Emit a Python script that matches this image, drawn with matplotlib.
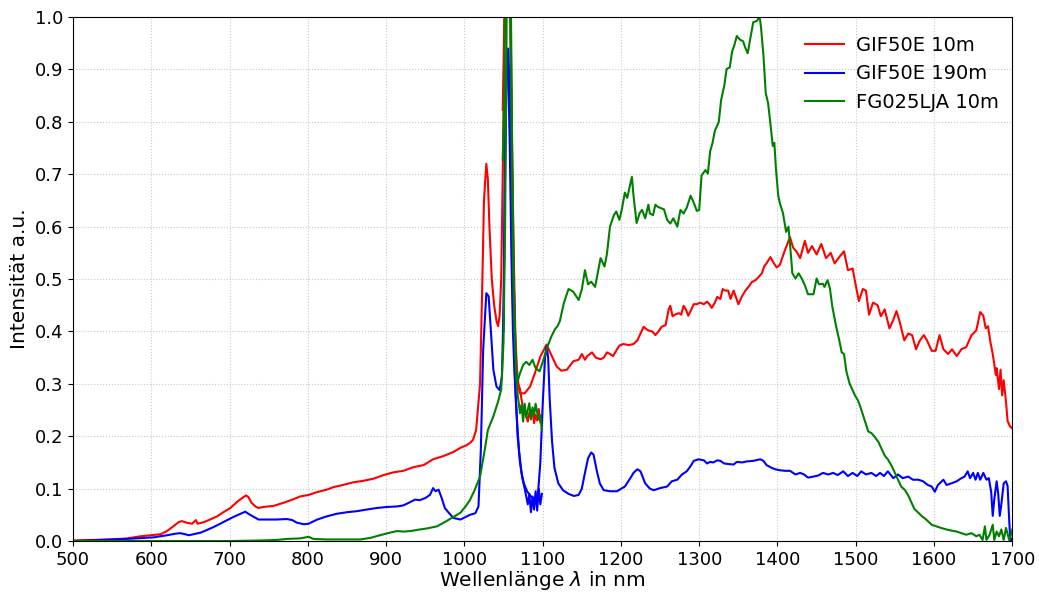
import numpy as np
import matplotlib
matplotlib.use("Agg")
import matplotlib.pyplot as plt

# Spektren: je Faser ein VIS-Teil (bis ~1100 nm) und ein NIR-Teil (ab ~1050 nm)
# (Wellenlänge in nm, Intensität normiert)

rot_vis = [(500, 0.001), (548, 0.003), (569, 0.005), (586, 0.009), (599, 0.011), (612, 0.013),
           (620, 0.019), (628, 0.028), (635, 0.036), (639, 0.038), (645, 0.035), (652, 0.033),
           (657, 0.040), (659, 0.033), (667, 0.036), (675, 0.041), (684, 0.047), (692, 0.055),
           (701, 0.063), (709, 0.074), (716, 0.082), (721, 0.087), (724, 0.084), (728, 0.073),
           (733, 0.066), (737, 0.063), (743, 0.065), (756, 0.067), (769, 0.073), (782, 0.080),
           (790, 0.085), (801, 0.088), (811, 0.093), (824, 0.098), (833, 0.103), (845, 0.107),
           (858, 0.112), (871, 0.115), (884, 0.119), (897, 0.126), (909, 0.131), (922, 0.134),
           (935, 0.141), (948, 0.145), (960, 0.156), (973, 0.162), (986, 0.170), (995, 0.178),
           (1003, 0.183), (1007, 0.187), (1011, 0.193), (1015, 0.212), (1020, 0.30), (1023, 0.50),
           (1025, 0.65), (1028, 0.72), (1030, 0.69), (1032, 0.60), (1035, 0.50), (1038, 0.45),
           (1041, 0.42), (1043, 0.41), (1045, 0.43), (1047, 0.50), (1049, 0.70), (1051, 0.95),
           (1053, 1.20), (1055, 1.40), (1057, 1.30), (1059, 1.00), (1061, 0.75), (1063, 0.55),
           (1065, 0.40), (1067, 0.33), (1069, 0.30), (1071, 0.29), (1073, 0.27), (1075, 0.254),
           (1077, 0.245), (1079, 0.238), (1081, 0.228), (1083, 0.245), (1085, 0.235), (1087, 0.25),
           (1089, 0.225), (1091, 0.241), (1093, 0.23), (1095, 0.252), (1097, 0.226), (1099, 0.238)]

rot_nir = [(1049, 0.823), (1051, 1.0), (1053, 1.3), (1055, 1.5), (1057, 1.3), (1059, 0.95),
           (1061, 0.70), (1063, 0.50), (1065, 0.38), (1067, 0.31), (1071, 0.282), (1077, 0.282),
           (1084, 0.295), (1090, 0.32), (1097, 0.352), (1105, 0.375), (1112, 0.352), (1118, 0.333),
           (1124, 0.325), (1131, 0.327), (1139, 0.343), (1146, 0.346), (1150, 0.357), (1154, 0.346),
           (1157, 0.353), (1163, 0.36), (1168, 0.35), (1174, 0.347), (1178, 0.35), (1182, 0.36),
           (1186, 0.357), (1190, 0.353), (1195, 0.366), (1198, 0.373), (1203, 0.376), (1210, 0.374),
           (1216, 0.376), (1221, 0.383), (1225, 0.396), (1229, 0.409), (1232, 0.405), (1235, 0.402),
           (1240, 0.40), (1244, 0.393), (1248, 0.40), (1252, 0.409), (1257, 0.412), (1261, 0.442),
           (1263, 0.449), (1266, 0.429), (1269, 0.432), (1274, 0.435), (1277, 0.432), (1280, 0.449),
           (1283, 0.442), (1286, 0.43), (1289, 0.439), (1293, 0.452), (1297, 0.452), (1301, 0.455),
           (1306, 0.452), (1310, 0.457), (1313, 0.452), (1316, 0.445), (1320, 0.455), (1323, 0.466),
           (1327, 0.462), (1330, 0.481), (1333, 0.478), (1337, 0.478), (1340, 0.462), (1344, 0.478),
           (1347, 0.465), (1350, 0.452), (1355, 0.468), (1359, 0.478), (1363, 0.485), (1367, 0.494),
           (1372, 0.498), (1376, 0.504), (1380, 0.511), (1383, 0.524), (1386, 0.53), (1391, 0.542),
           (1395, 0.531), (1399, 0.522), (1403, 0.527), (1409, 0.553), (1416, 0.58), (1420, 0.56),
           (1424, 0.553), (1429, 0.54), (1435, 0.573), (1439, 0.55), (1444, 0.563), (1450, 0.547),
           (1456, 0.567), (1462, 0.54), (1468, 0.55), (1473, 0.53), (1480, 0.544), (1485, 0.553),
           (1490, 0.517), (1496, 0.52), (1500, 0.488), (1504, 0.458), (1509, 0.481), (1513, 0.478),
           (1517, 0.432), (1522, 0.455), (1528, 0.45), (1532, 0.429), (1537, 0.442), (1543, 0.406),
           (1548, 0.422), (1552, 0.439), (1556, 0.419), (1562, 0.383), (1567, 0.396), (1572, 0.393),
           (1577, 0.366), (1582, 0.383), (1587, 0.393), (1591, 0.383), (1597, 0.363), (1602, 0.363),
           (1607, 0.393), (1612, 0.366), (1618, 0.357), (1623, 0.366), (1629, 0.353), (1635, 0.366),
           (1641, 0.37), (1648, 0.393), (1654, 0.402), (1659, 0.437), (1663, 0.43), (1666, 0.406),
           (1669, 0.41), (1672, 0.38), (1675, 0.357), (1679, 0.317), (1680, 0.33), (1683, 0.29),
           (1685, 0.327), (1687, 0.278), (1689, 0.307), (1692, 0.265), (1694, 0.229), (1697, 0.219),
           (1700, 0.215)]

blau_vis = [(500, 0.0), (569, 0.004), (603, 0.007), (620, 0.011), (631, 0.014), (637, 0.015),
            (643, 0.013), (648, 0.011), (654, 0.013), (663, 0.016), (671, 0.021), (680, 0.027),
            (688, 0.033), (697, 0.040), (705, 0.046), (714, 0.052), (720, 0.056), (724, 0.052),
            (731, 0.046), (737, 0.041), (748, 0.041), (760, 0.041), (773, 0.042), (780, 0.040),
            (786, 0.035), (795, 0.032), (801, 0.033), (812, 0.041), (824, 0.047), (837, 0.052),
            (850, 0.055), (863, 0.057), (875, 0.060), (888, 0.063), (901, 0.065), (914, 0.066),
            (922, 0.068), (929, 0.073), (937, 0.079), (943, 0.078), (950, 0.082), (956, 0.088),
            (960, 0.101), (963, 0.095), (967, 0.098), (971, 0.082), (975, 0.063), (980, 0.054),
            (986, 0.044), (995, 0.041), (1007, 0.050), (1014, 0.053), (1018, 0.066), (1021, 0.174),
            (1024, 0.365), (1028, 0.473), (1031, 0.467), (1034, 0.397), (1037, 0.327), (1041, 0.295),
            (1045, 0.288), (1048, 0.314), (1050, 0.45), (1052, 0.70), (1054, 0.90), (1056, 0.94),
            (1058, 0.85), (1060, 0.65), (1062, 0.45), (1065, 0.30), (1068, 0.20), (1071, 0.15),
            (1074, 0.12), (1077, 0.10), (1079, 0.085), (1081, 0.07), (1083, 0.09), (1085, 0.055),
            (1087, 0.085), (1089, 0.06), (1091, 0.095), (1093, 0.058), (1095, 0.10), (1097, 0.07),
            (1099, 0.09)]

blau_nir = [(1050, 0.40), (1052, 0.75), (1054, 0.93), (1056, 0.90), (1058, 0.75), (1060, 0.55),
            (1062, 0.40), (1064, 0.32), (1066, 0.26), (1068, 0.21), (1070, 0.17), (1073, 0.13),
            (1076, 0.11), (1080, 0.095), (1085, 0.085), (1090, 0.08), (1094, 0.09), (1097, 0.15),
            (1100, 0.26), (1103, 0.35), (1105, 0.372), (1107, 0.35), (1109, 0.27), (1112, 0.19),
            (1115, 0.14), (1120, 0.11), (1126, 0.097), (1133, 0.09), (1140, 0.086), (1146, 0.088),
            (1150, 0.10), (1154, 0.13), (1158, 0.158), (1162, 0.169), (1165, 0.165), (1169, 0.135),
            (1173, 0.11), (1178, 0.097), (1186, 0.095), (1195, 0.095), (1205, 0.104), (1212, 0.12),
            (1216, 0.13), (1221, 0.137), (1225, 0.133), (1231, 0.11), (1237, 0.10), (1242, 0.097),
            (1246, 0.099), (1250, 0.101), (1259, 0.104), (1265, 0.114), (1272, 0.117), (1278, 0.127),
            (1284, 0.133), (1289, 0.143), (1293, 0.153), (1299, 0.156), (1306, 0.154), (1310, 0.148),
            (1314, 0.151), (1318, 0.150), (1323, 0.154), (1327, 0.153), (1332, 0.148), (1337, 0.147),
            (1344, 0.146), (1348, 0.151), (1355, 0.150), (1361, 0.152), (1369, 0.153), (1378, 0.156),
            (1382, 0.153), (1386, 0.145), (1392, 0.140), (1397, 0.137), (1403, 0.135), (1410, 0.134),
            (1416, 0.134), (1423, 0.127), (1429, 0.130), (1434, 0.127), (1439, 0.121), (1446, 0.123),
            (1452, 0.125), (1458, 0.130), (1465, 0.127), (1471, 0.130), (1477, 0.126), (1484, 0.133),
            (1490, 0.124), (1496, 0.130), (1502, 0.124), (1507, 0.133), (1513, 0.127), (1520, 0.130),
            (1526, 0.124), (1531, 0.130), (1536, 0.124), (1541, 0.133), (1548, 0.120), (1554, 0.127),
            (1560, 0.120), (1567, 0.123), (1573, 0.117), (1580, 0.117), (1586, 0.114), (1592, 0.107),
            (1597, 0.104), (1601, 0.094), (1605, 0.107), (1612, 0.117), (1616, 0.107), (1622, 0.110),
            (1629, 0.114), (1635, 0.120), (1639, 0.123), (1643, 0.133), (1646, 0.120), (1650, 0.130),
            (1653, 0.117), (1656, 0.130), (1659, 0.117), (1663, 0.130), (1667, 0.117), (1670, 0.120),
            (1673, 0.094), (1675, 0.048), (1677, 0.080), (1680, 0.114), (1682, 0.090), (1684, 0.048),
            (1686, 0.070), (1689, 0.110), (1692, 0.114), (1694, 0.105), (1696, 0.041), (1697.5, 0.0),
            (1700, 0.005)]

gruen_vis = [(500, 0.0), (600, 0.0), (700, 0.0), (739, 0.001), (760, 0.002), (773, 0.004),
             (790, 0.005), (801, 0.008), (807, 0.004), (824, 0.003), (846, 0.003), (867, 0.003),
             (880, 0.006), (892, 0.011), (905, 0.016), (914, 0.019), (922, 0.018), (931, 0.019),
             (943, 0.022), (952, 0.024), (965, 0.028), (977, 0.038), (986, 0.046), (995, 0.054),
             (1001, 0.065), (1007, 0.078), (1013, 0.097), (1020, 0.123), (1026, 0.174), (1030, 0.212),
             (1037, 0.238), (1043, 0.266), (1047, 0.289), (1050, 0.38), (1052, 0.60), (1054, 1.0),
             (1056, 1.3), (1058, 1.1), (1060, 0.80), (1062, 0.55), (1064, 0.40), (1066, 0.32),
             (1068, 0.28), (1070, 0.257), (1071, 0.244), (1073, 0.26), (1075, 0.228), (1077, 0.262),
             (1079, 0.236), (1081, 0.25), (1083, 0.263), (1085, 0.232), (1087, 0.255), (1089, 0.24),
             (1091, 0.262), (1093, 0.245), (1095, 0.232), (1097, 0.24), (1099, 0.212)]

gruen_nir = [(1049, 0.727), (1051, 0.85), (1053, 1.2), (1055, 1.6), (1057, 1.4), (1059, 1.1),
             (1061, 0.75), (1063, 0.50), (1065, 0.38), (1067, 0.30), (1071, 0.32), (1075, 0.336),
             (1079, 0.342), (1083, 0.336), (1087, 0.346), (1091, 0.33), (1096, 0.324), (1101, 0.346),
             (1106, 0.371), (1111, 0.39), (1116, 0.405), (1119, 0.41), (1122, 0.42), (1127, 0.454),
             (1133, 0.481), (1139, 0.476), (1146, 0.46), (1150, 0.48), (1154, 0.517), (1158, 0.49),
             (1162, 0.495), (1167, 0.485), (1174, 0.54), (1179, 0.524), (1182, 0.547), (1186, 0.60),
             (1191, 0.622), (1194, 0.629), (1198, 0.613), (1201, 0.632), (1205, 0.665), (1208, 0.655),
             (1211, 0.675), (1214, 0.695), (1216, 0.66), (1220, 0.607), (1224, 0.626), (1227, 0.632),
             (1231, 0.616), (1235, 0.642), (1237, 0.625), (1241, 0.622), (1244, 0.642), (1247, 0.638),
             (1250, 0.636), (1255, 0.633), (1259, 0.613), (1263, 0.606), (1267, 0.616), (1272, 0.60),
             (1276, 0.632), (1280, 0.625), (1284, 0.636), (1289, 0.659), (1293, 0.646), (1297, 0.63),
             (1300, 0.632), (1303, 0.698), (1308, 0.708), (1311, 0.701), (1314, 0.744), (1317, 0.76),
             (1320, 0.783), (1325, 0.80), (1328, 0.842), (1332, 0.869), (1335, 0.901), (1339, 0.904),
             (1342, 0.934), (1345, 0.947), (1348, 0.964), (1352, 0.957), (1356, 0.954), (1359, 0.941),
             (1362, 0.931), (1365, 0.957), (1369, 0.99), (1374, 0.993), (1377, 1.003), (1379, 0.98),
             (1382, 0.928), (1385, 0.855), (1388, 0.836), (1391, 0.796), (1394, 0.754), (1396, 0.76),
             (1398, 0.711), (1401, 0.659), (1403, 0.645), (1407, 0.626), (1411, 0.59), (1414, 0.60),
             (1416, 0.567), (1419, 0.511), (1423, 0.501), (1427, 0.511), (1431, 0.501), (1435, 0.488),
             (1439, 0.471), (1446, 0.471), (1450, 0.501), (1453, 0.49), (1458, 0.491), (1460, 0.485),
             (1464, 0.498), (1467, 0.482), (1470, 0.448), (1475, 0.409), (1479, 0.383), (1482, 0.36),
             (1485, 0.357), (1488, 0.324), (1492, 0.301), (1495, 0.291), (1499, 0.278), (1503, 0.268),
             (1507, 0.251), (1512, 0.228), (1516, 0.209), (1520, 0.206), (1524, 0.199), (1529, 0.189),
             (1533, 0.176), (1537, 0.163), (1541, 0.156), (1546, 0.143), (1550, 0.13), (1554, 0.117),
             (1558, 0.104), (1563, 0.097), (1567, 0.087), (1571, 0.074), (1575, 0.061), (1580, 0.054),
             (1584, 0.048), (1590, 0.041), (1597, 0.031), (1603, 0.028), (1609, 0.025), (1616, 0.022),
             (1622, 0.02), (1629, 0.018), (1635, 0.015), (1641, 0.012), (1648, 0.015), (1654, 0.009),
             (1658, 0.012), (1662, 0.002), (1665, 0.028), (1667, 0.002), (1671, 0.012), (1675, 0.031),
             (1677, 0.002), (1680, 0.018), (1683, 0.009), (1686, 0.022), (1689, 0.002), (1692, 0.025),
             (1696, 0.002), (1699, 0.015), (1700, 0.022)]

labels = ['GIF50E 10m', 'GIF50E 190m', 'FG025LJA 10m']
farben = ['red', 'blue', 'green']
spektren = [(rot_vis, rot_nir), (blau_vis, blau_nir), (gruen_vis, gruen_nir)]

fig = plt.figure(figsize=(10.39, 5.94), dpi=100)
ax = fig.add_axes([0.0703, 0.0892, 0.904, 0.882])

for (vis, nir), farbe, label in zip(spektren, farben, labels):
    wl, I = np.array(vis).T
    ax.plot(wl, I, color=farbe, lw=1.5, label=label)
    wl, I = np.array(nir).T
    ax.plot(wl, I, color=farbe, lw=1.5)

ax.set_xlim(500, 1700)
ax.set_ylim(0, 1.0)
ax.set_xticks(np.arange(500, 1701, 100))
ax.set_yticks(np.arange(0, 1.01, 0.1))
ax.tick_params(labelsize=13)
ax.grid(True, linestyle=':', color='#c8c8c8', linewidth=0.8)
ax.set_xlabel('Wellenlänge $\\lambda$ in nm', fontsize=14.5, labelpad=0)
ax.set_ylabel('Intensität a.u.', fontsize=14.5)
ax.legend(loc='upper right', frameon=False, fontsize=14, bbox_to_anchor=(1.004, 0.998),
          handletextpad=0.6)

fig.savefig('out.png', dpi=100)
